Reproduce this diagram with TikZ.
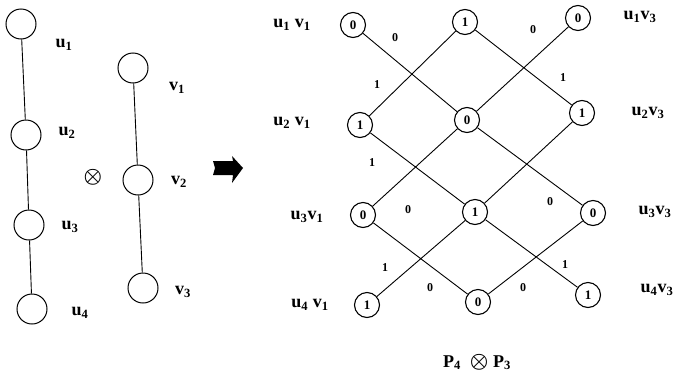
\documentclass[tikz,border=0pt]{standalone}
\usepackage{amsmath}
\usepackage{fontspec}
\setmainfont{Liberation Serif}
\newcommand{\prodop}{{\fontsize{22}{24}\selectfont$\boldsymbol{\otimes}$}}
\begin{document}
\begin{tikzpicture}[x=1pt,y=-1pt,font=\bfseries\fontsize{18}{20}\selectfont,
  bigv/.style={draw,circle,minimum size=30pt,inner sep=0pt,line width=1pt},
  smallv/.style={draw,circle,minimum size=25pt,inner sep=0pt,line width=1.1pt,font=\bfseries\fontsize{13}{14}\selectfont},
  wlabel/.style={inner sep=1pt,font=\bfseries\fontsize{12}{13}\selectfont},
  link/.style={line width=.9pt}]
\useasboundingbox (0,0) rectangle (687,383);
% path P4
\node[bigv] (u1) at (21,24) {};
\node[bigv] (u2) at (26,135) {};
\node[bigv] (u3) at (29,225) {};
\node[bigv] (u4) at (32,309) {};
\node (lu1) at (64,45) {u\textsubscript{1}};
\node (lu2) at (67,133) {u\textsubscript{2}};
\node (lu3) at (70,227) {u\textsubscript{3}};
\node (lu4) at (80,313) {u\textsubscript{4}};
\draw[link] (u1) -- (u2) -- (u3) -- (u4);
% path P3
\node[bigv] (v1) at (133,68) {};
\node[bigv] (v2) at (138,180) {};
\node[bigv] (v3) at (143,288) {};
\node (lv1) at (177,88) {v\textsubscript{1}};
\node (lv2) at (179,182) {v\textsubscript{2}};
\node (lv3) at (183,292) {v\textsubscript{3}};
\draw[link] (v1) -- (v2) -- (v3);
\node (op) at (93,177) {\prodop};
% arrow
\fill (213,161) -- (233,161) -- (232,156) -- (243,168) -- (232,183) -- (233,175) -- (213,175) -- (215,168) -- cycle;
% product graph
\node[smallv] (r1c1) at (353,25) {0};
\node[smallv] (r1c2) at (465,22) {1};
\node[smallv] (r1c3) at (578,18) {0};
\node[smallv] (r2c1) at (360,125) {1};
\node[smallv] (r2c2) at (467,120) {0};
\node[smallv] (r2c3) at (582,113) {1};
\node[smallv] (r3c1) at (363,215) {0};
\node[smallv] (r3c2) at (475,212) {1};
\node[smallv] (r3c3) at (593,213) {0};
\node[smallv] (r4c1) at (367,305) {1};
\node[smallv] (r4c2) at (478,302) {0};
\node[smallv] (r4c3) at (588,295) {1};
\draw[link] (r1c1) -- (r2c2) (r1c2) -- (r2c1) (r1c2) -- (r2c3) (r1c3) -- (r2c2);
\draw[link] (r2c1) -- (r3c2) (r2c2) -- (r3c1) (r2c2) -- (r3c3) (r2c3) -- (r3c2);
\draw[link] (r3c1) -- (r4c2) (r3c2) -- (r4c1) (r3c2) -- (r4c3) (r3c3) -- (r4c2);
\node[wlabel] (w1) at (395,38) {0};
\node[wlabel] (w2) at (533,30) {0};
\node[wlabel] (w3) at (377,85) {1};
\node[wlabel] (w4) at (563,78) {1};
\node[wlabel] (w5) at (372,163) {1};
\node[wlabel] (w6) at (408,210) {0};
\node[wlabel] (w7) at (550,202) {0};
\node[wlabel] (w8) at (385,268) {1};
\node[wlabel] (w9) at (430,288) {0};
\node[wlabel] (w10) at (523,288) {0};
\node[wlabel] (w11) at (565,265) {1};
\node (l11) at (292,25) {u\textsubscript{1} v\textsubscript{1}};
\node (l21) at (292,123) {u\textsubscript{2} v\textsubscript{1}};
\node (l31) at (307,217) {u\textsubscript{3}v\textsubscript{1}};
\node (l41) at (310,305) {u\textsubscript{4} v\textsubscript{1}};
\node (l13) at (640,17) {u\textsubscript{1}v\textsubscript{3}};
\node (l23) at (648,113) {u\textsubscript{2}v\textsubscript{3}};
\node (l33) at (655,212) {u\textsubscript{3}v\textsubscript{3}};
\node (l43) at (657,290) {u\textsubscript{4}v\textsubscript{3}};
\node (cap) at (477,362) {P\textsubscript{4}\enspace\prodop{} P\textsubscript{3}};
\end{tikzpicture}
\end{document}
